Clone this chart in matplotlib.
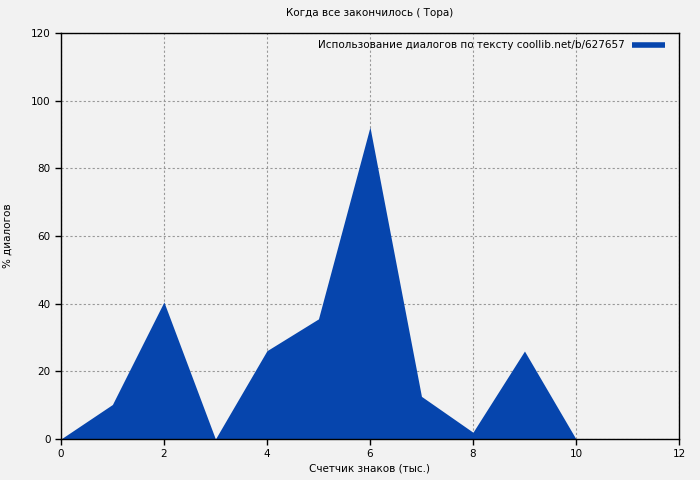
import matplotlib
matplotlib.use("Agg")
import matplotlib.pyplot as plt

# data
x = [0, 1, 2, 3, 4, 5, 6, 7, 8, 9, 10]
y = [0, 10.2, 40.5, 0, 26.1, 35.5, 92.2, 12.6, 2.0, 26.0, 0]

title = "Когда все закончилось ( Тора)"
series_label = "Использование диалогов по тексту coollib.net/b/627657"
xlabel = "Счетчик знаков (тыс.)"
ylabel = "% диалогов"

bg = "#f2f2f2"
fill_color = "#0645ad"

plt.rcParams["font.family"] = ["DejaVu Sans"]
plt.rcParams["font.size"] = 7.5

fig = plt.figure(figsize=(7, 4.8), dpi=100, facecolor=bg)
ax = fig.add_axes([0.087, 0.0854, 0.883, 0.8459], facecolor=bg)

ax.fill_between(x, y, 0, color=fill_color, linewidth=0, label=series_label, zorder=2)

ax.set_xlim(0, 12)
ax.set_ylim(0, 120)
ax.set_xticks(range(0, 13, 2))
ax.set_yticks(range(0, 121, 20))
ax.set_axisbelow(True)
ax.grid(True, color="#999999", linestyle=(0, (2, 2)), linewidth=0.8)
ax.tick_params(direction="out", length=4, width=1, colors="black")
for s in ax.spines.values():
    s.set_linewidth(1)
    s.set_zorder(5)

ax.set_title(title, fontsize=7.5, pad=12)
ax.set_xlabel(xlabel, labelpad=3)
ax.set_ylabel(ylabel, labelpad=13)

handle = plt.Line2D([], [], color=fill_color, linewidth=4, solid_capstyle="butt")
leg = ax.legend([handle], [series_label], loc="upper right", frameon=False,
                markerfirst=False, handlelength=3.2, borderaxespad=0.3,
                handletextpad=0.65, bbox_to_anchor=(0.989, 1.0))

fig.savefig("out.png", dpi=100, facecolor=bg)
